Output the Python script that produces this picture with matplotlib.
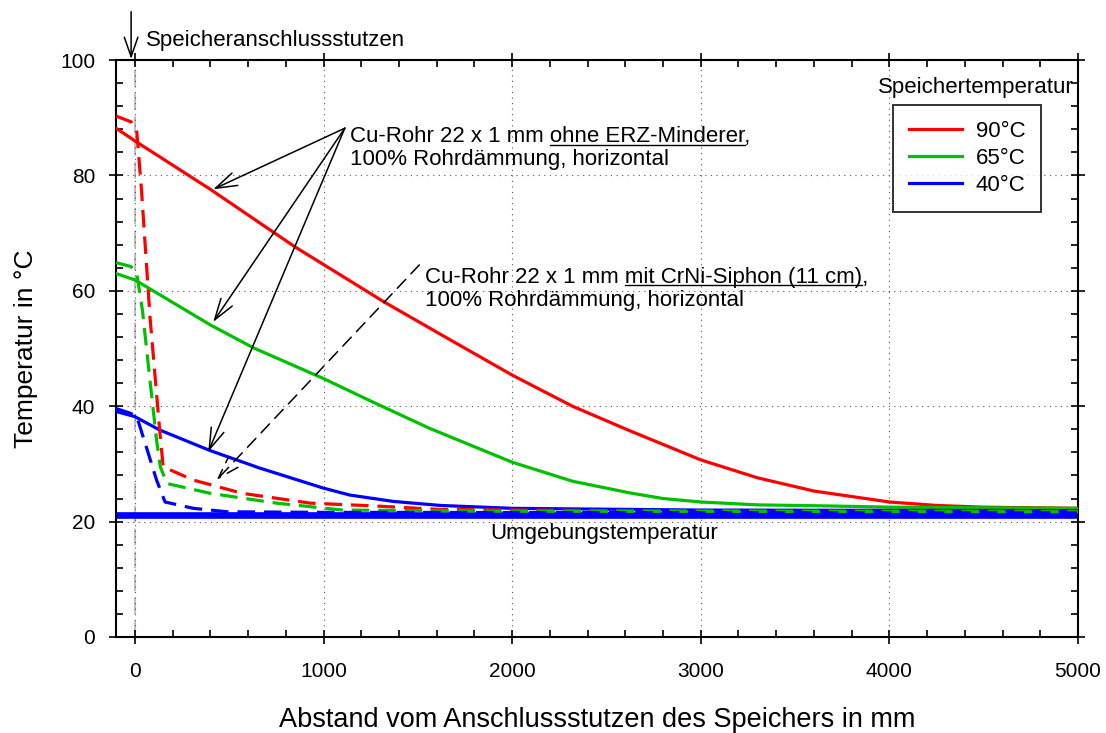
import matplotlib
matplotlib.use("Agg")
import matplotlib.pyplot as plt
from matplotlib.ticker import MultipleLocator
from matplotlib.lines import Line2D

plt.rcParams['font.family'] = ['Liberation Sans', 'DejaVu Sans']

# Abstand in mm / Temperatur in °C, Cu-Rohr ohne ERZ-Minderer (durchgezogen)
x_90 = [-100, 0, 400, 850, 1320, 1640, 2000, 2320, 2620, 3000, 3300, 3600, 4000, 4250, 4500, 5000]
t_90 = [88.2, 86.0, 77.6, 67.6, 58.1, 52.1, 45.4, 40.0, 35.8, 30.7, 27.6, 25.3, 23.4, 22.8, 22.5, 22.3]
x_65 = [-100, 0, 400, 630, 1000, 1250, 1560, 2000, 2320, 2620, 2800, 3000, 3300, 3700, 4000, 4500, 5000]
t_65 = [63.0, 61.9, 54.1, 50.1, 44.8, 40.9, 36.2, 30.3, 27.0, 25.0, 24.0, 23.4, 22.9, 22.7, 22.5, 22.4, 22.3]
x_40 = [-100, 0, 130, 400, 660, 1000, 1140, 1370, 1620, 2000, 3000, 5000]
t_40 = [39.1, 38.2, 35.9, 32.3, 29.3, 25.8, 24.6, 23.5, 22.8, 22.3, 22.0, 21.9]

# mit CrNi-Siphon (gestrichelt)
xs_90 = [-100, -20, 10, 35, 80, 130, 150, 310, 570, 930, 1280, 1620, 2500, 5000]
ts_90 = [90.3, 89.3, 87.6, 77.5, 55.5, 36.4, 29.5, 27.2, 24.9, 23.2, 22.7, 22.1, 21.9, 21.8]
xs_65 = [-100, -20, 10, 40, 80, 115, 135, 170, 400, 750, 1100, 2000, 5000]
ts_65 = [64.9, 64.2, 63.0, 56.6, 44.5, 34.1, 29.5, 26.6, 24.9, 23.2, 22.0, 21.8, 21.7]
xs_40 = [-100, -25, 10, 60, 115, 160, 310, 490, 1000, 5000]
ts_40 = [39.6, 38.8, 38.2, 33.0, 27.2, 23.4, 22.3, 21.7, 21.6, 21.5]

# Umgebungstemperatur
x_amb = [-100, 5000]
t_amb = [21.2, 21.2]

labels = ["90°C", "65°C", "40°C"]
colors = ["#ff0000", "#00c000", "#0000ff"]

fig = plt.figure(figsize=(11.06, 7.33), dpi=100)
ax = fig.add_axes([0.1049, 0.131, 0.8698, 0.787])

ax.plot(x_amb, t_amb, color="#0000ff", lw=4.8, solid_capstyle="round", zorder=2)
for xx, tt, c, lab in zip([x_90, x_65, x_40], [t_90, t_65, t_40], colors, labels):
    ax.plot(xx, tt, color=c, lw=2.3, label=lab, zorder=3)
for xx, tt, c in zip([xs_90, xs_65, xs_40], [ts_90, ts_65, ts_40], colors):
    ax.plot(xx, tt, color=c, lw=2.3, dashes=(5.5, 2.8), zorder=3)

ax.axvline(0, color="#c0c0c0", lw=1.5, dashes=(8, 3), zorder=1)

ax.set_xlim(-100, 5000)
ax.set_ylim(0, 100)
ax.xaxis.set_major_locator(MultipleLocator(1000))
ax.xaxis.set_minor_locator(MultipleLocator(200))
ax.yaxis.set_major_locator(MultipleLocator(20))
ax.yaxis.set_minor_locator(MultipleLocator(4))
ax.tick_params(which="both", top=True, right=True, labelsize=15, width=1.2)
ax.tick_params(which="major", direction="inout", length=10)
ax.tick_params(which="minor", direction="in", length=5)
ax.tick_params(axis="x", which="major", pad=13)
ax.tick_params(axis="y", which="major", pad=10)
for s in ax.spines.values():
    s.set_linewidth(1.5)
ax.grid(True, which="major", color="#555555", lw=0.8, linestyle=(0, (1, 4)))

ax.set_xlabel("Abstand vom Anschlussstutzen des Speichers in mm", fontsize=19.5, labelpad=19)
ax.set_ylabel("Temperatur in °C", fontsize=19, labelpad=16)

# Legende
leg = ax.legend(loc="upper left", bbox_to_anchor=(0.808, 0.922), fontsize=16,
                frameon=True, fancybox=False, handlelength=2.4, borderpad=0.7,
                labelspacing=0.28, handletextpad=0.6, borderaxespad=0)
leg.get_frame().set_edgecolor("black")
leg.get_frame().set_linewidth(1.4)
ax.text(4975, 95.3, "Speichertemperatur", fontsize=16, ha="right", va="center")

# Speicheranschlussstutzen
ax.annotate("", xy=(-20, 100.2), xytext=(-20, 108.4), annotation_clip=False,
            arrowprops=dict(arrowstyle="->,head_length=1.0,head_width=0.35",
                            color="black", lw=1.1, shrinkA=0, shrinkB=0, mutation_scale=14))
ax.text(60, 103.4, "Speicheranschlussstutzen", fontsize=16, va="center", ha="left")
ax.text(2490, 18.0, "Umgebungstemperatur", fontsize=16, va="center", ha="center")


def text_underlined(x, y, prefix, under, suffix, fs):
    t = ax.text(x, y, prefix + under + suffix, fontsize=fs, ha="left", va="baseline", zorder=6)
    r = fig.canvas.get_renderer()

    def width(s):
        tmp = ax.text(x, y, s, fontsize=fs)
        w = tmp.get_window_extent(r).width
        tmp.remove()
        return w
    w_all = width(prefix + under)
    w_u = width(under)
    x0, y0 = ax.transData.transform((x, y))
    fig.add_artist(Line2D([x0 + w_all - w_u, x0 + w_all], [y0 - 2.5, y0 - 2.5],
                          transform=None, color="black", lw=1.0))
    return t


fs_a = 16
text_underlined(1140, 85.8, "Cu-Rohr 22 x 1 mm ", "ohne ERZ-Minderer", ",", fs_a)
ax.text(1140, 81.8, "100% Rohrdämmung, horizontal", fontsize=fs_a, va="baseline")
text_underlined(1540, 61.4, "Cu-Rohr 22 x 1 mm ", "mit CrNi-Siphon (11 cm)", ",", fs_a)
ax.text(1540, 57.4, "100% Rohrdämmung, horizontal", fontsize=fs_a, va="baseline")

arrow = dict(arrowstyle="->,head_length=1.1,head_width=0.35", color="black",
             lw=1.1, shrinkA=0, shrinkB=0, mutation_scale=14)
for head in [(415, 77.6), (415, 54.6), (389, 32.1)]:
    ax.annotate("", xy=head, xytext=(1113, 88.2), arrowprops=arrow, zorder=5)
arrow_d = dict(arrow, linestyle=(0, (8, 5)))
ax.annotate("", xy=(433, 27.2), xytext=(1508, 64.5), arrowprops=arrow_d, zorder=5)

fig.savefig("out.png", dpi=100)
